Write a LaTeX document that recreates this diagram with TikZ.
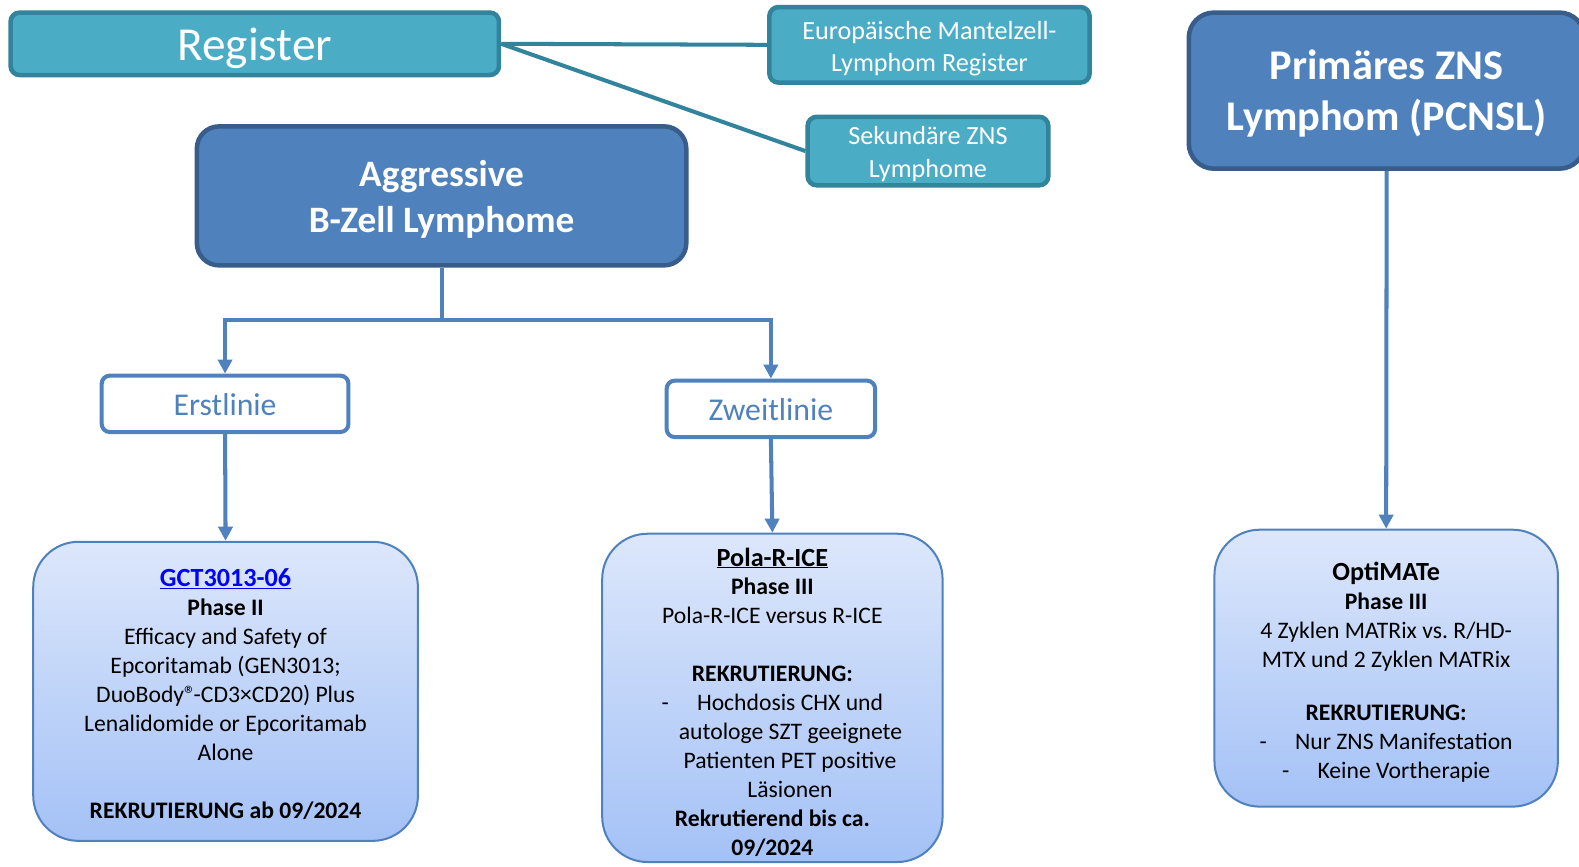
\documentclass[tikz,border=0pt]{standalone}
\usepackage{fontspec}
\setmainfont{Carlito}
\usetikzlibrary{arrows.meta}
\definecolor{tealfill}{HTML}{4BACC6}
\definecolor{tealline}{HTML}{31849B}
\definecolor{bluefill}{HTML}{4F81BD}
\definecolor{blueline}{HTML}{385D8A}
\definecolor{gtop}{HTML}{DCE7FB}
\definecolor{gbot}{HTML}{A4C1F6}
\definecolor{linkblue}{HTML}{0000FF}
\frenchspacing
\tikzset{
  tealbox/.style={draw=tealline, fill=tealfill, line width=4.5pt, rounded corners=9pt, inner sep=0pt},
  bluebox/.style={draw=blueline, fill=bluefill, line width=4.5pt, rounded corners=22pt, inner sep=0pt},
  linebox/.style={draw=bluefill, fill=white, line width=4pt, rounded corners=8pt, inner sep=0pt},
  studybox/.style={draw=bluefill, top color=gtop, bottom color=gbot, line width=2pt, rounded corners=45pt, inner sep=0pt},
  whitetext/.style={text=white, align=center, inner sep=0pt},
  linetext/.style={text=bluefill, align=center, inner sep=0pt, font=\fontsize{31.5}{36}\selectfont},
  studytext/.style={text=black, align=center, inner sep=0pt, font=\fontsize{23.5}{28.8}\selectfont},
  tealconn/.style={draw=tealline, line width=4pt},
  blueconn/.style={draw=bluefill, line width=4pt},
  bluearrow/.style={draw=bluefill, line width=4pt, -{Triangle[length=14pt,width=14pt]}},
}
\begin{document}
\begin{tikzpicture}[x=1pt,y=-1pt]
\clip (0,0) rectangle (1568,860);
\fill[white] (0,0) rectangle (1568,860);

% registers
\node[tealbox, minimum width=485pt, minimum height=62pt] (reg) at (253,43.5) {};
\node[whitetext, font=\fontsize{47}{52}\selectfont] (regt) at ([yshift=-4pt]reg.center) {Register};
\node[tealbox, minimum width=318pt, minimum height=75pt] (euro) at (923,44.5) {};
\node[whitetext, font=\fontsize{26}{32}\selectfont] (eurot) at ([yshift=-3.5pt]euro.center) {Europäische Mantelzell-\\Lymphom Register};
\node[tealbox, minimum width=239pt, minimum height=68pt] (sek) at (921.5,150) {};
\node[whitetext, font=\fontsize{26}{32}\selectfont] (sekt) at ([yshift=-3pt]sek.center) {Sekundäre ZNS\\Lymphome};

\draw[tealconn] (reg.east) -- (euro.west);
\draw[tealconn] (reg.east) -- (sek.west);

% main entities
\node[bluebox, minimum width=486pt, minimum height=138pt] (agg) at (438.5,194.5) {};
\node[whitetext, font=\bfseries\fontsize{37}{45}\selectfont] (aggt) at ([yshift=-3.5pt]agg.center) {Aggressive\\B-Zell Lymphome};
\node[bluebox, rounded corners=25pt, minimum width=393pt, minimum height=155pt] (prim) at (1377,90) {};
\node[whitetext, font=\bfseries\fontsize{42}{51}\selectfont] (primt) at ([yshift=-3pt]prim.center) {Primäres ZNS\\Lymphom (PCNSL)};

% lines of therapy
\node[linebox, minimum width=245pt, minimum height=56pt] (erst) at (223.5,401) {};
\node[linetext] (erstt) at ([yshift=-1pt]erst.center) {Erstlinie};
\node[linebox, minimum width=207pt, minimum height=56pt] (zweit) at (765.5,406) {};
\node[linetext] (zweitt) at ([yshift=-1pt]zweit.center) {Zweitlinie};

% studies
\node[studybox, minimum width=382pt, minimum height=297pt] (gct) at (224,686.5) {};
\node[studytext] (gctt) at ([yshift=-3pt]gct.center) {%
{\fontsize{26}{29}\selectfont\bfseries\color{linkblue}\underline{GCT3013-06}}\\
\textbf{Phase II}\\
Efficacy and Safety of\\
Epcoritamab (GEN3013;\\
DuoBody®\kern-2.5pt-CD3×CD20) Plus\\
Lenalidomide or Epcoritamab\\
Alone\\[28.8pt]
\textbf{REKRUTIERUNG ab 09/2024}};

\node[studybox, minimum width=338pt, minimum height=326pt] (pola) at (767,693) {};
\node[studytext, font=\fontsize{23.5}{28.7}\selectfont] (polat) at ([yshift=-4pt]pola.center) {%
{\fontsize{26}{29}\selectfont\bfseries\underline{Pola-R-ICE}}\\
\textbf{Phase III}\\
Pola-R-ICE versus R-ICE\\[28.7pt]
\textbf{REKRUTIERUNG:}\\
-\hspace{28pt}Hochdosis CHX und\\
\hspace*{36pt}autologe SZT geeignete\\
\hspace*{35pt}Patienten PET positive\\
\hspace*{35pt}Läsionen\\
\textbf{Rekrutierend bis ca.}\\
\textbf{09/2024}};

\node[studybox, minimum width=341pt, minimum height=275pt] (opti) at (1376.5,663.5) {};
\node[studytext] (optit) at ([yshift=-4pt]opti.center) {%
{\fontsize{26}{29}\selectfont\bfseries OptiMATe}\\
\textbf{Phase III}\\
4 Zyklen MATRix vs. R/HD-\\
MTX und 2 Zyklen MATRix\\[24pt]
\textbf{REKRUTIERUNG:}\\
-\hspace{28pt}Nur ZNS Manifestation\\
-\hspace{28pt}Keine Vortherapie};

% connectors
\coordinate (split) at (438.5,318);
\draw[blueconn] (agg.south) -- (split);
\draw[bluearrow] (split) -| (erst.north);
\draw[bluearrow] (split) -| (zweit.north);
\draw[bluearrow] (erst.south) -- (gct.north);
\draw[bluearrow] (zweit.south) -- (pola.north);
\draw[bluearrow] (prim.south) -- (opti.north);
\end{tikzpicture}
\end{document}
